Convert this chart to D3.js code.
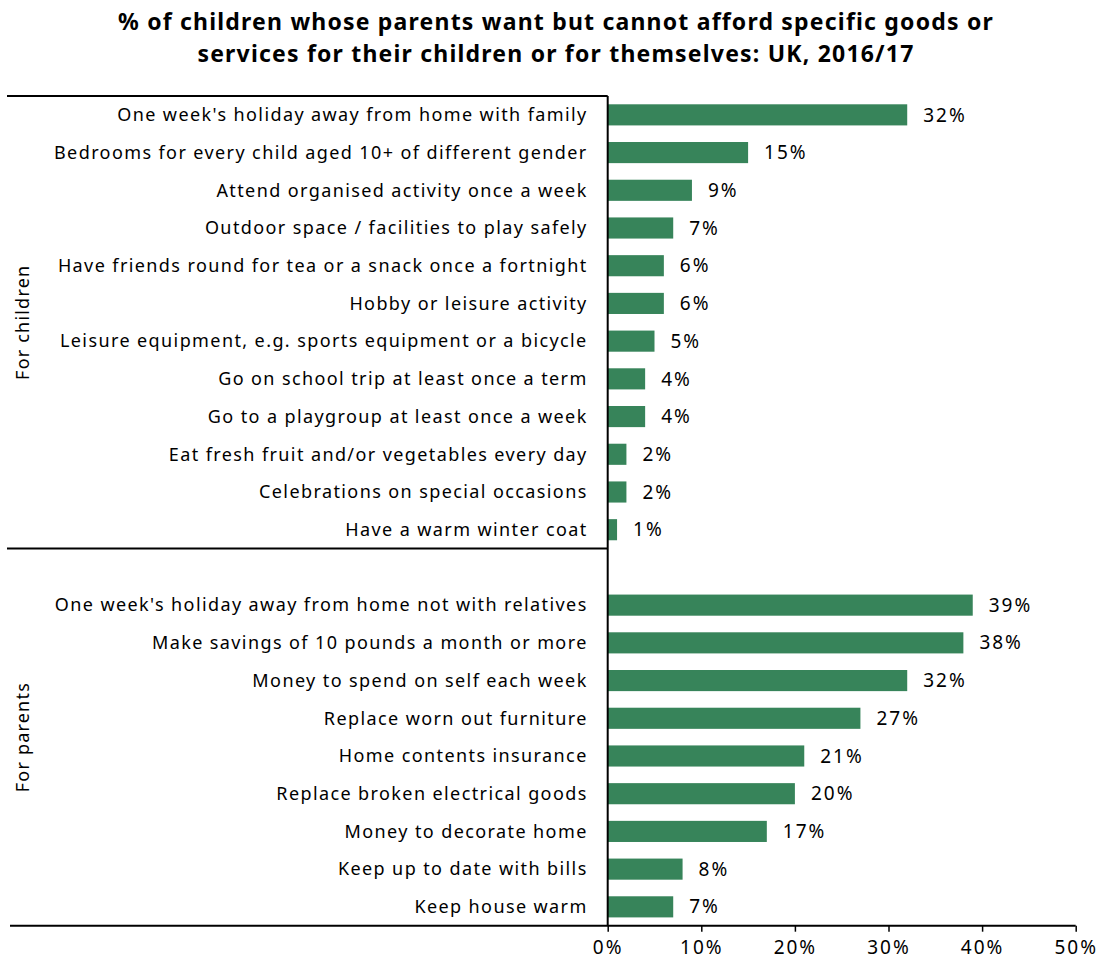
<!DOCTYPE html>
<html><head><meta charset="utf-8">
<script src="https://cdn.jsdelivr.net/npm/d3@7"></script>
<style>body{margin:0;background:#fff}svg{display:block}text{font-family:"Noto Sans",sans-serif;fill:#000}</style>
</head><body><svg id="c" width="1102" height="961"></svg>
<script>
const titleLines = ["% of children whose parents want but cannot afford specific goods or","services for their children or for themselves: UK, 2016/17"];
const childItems = ["One week's holiday away from home with family","Bedrooms for every child aged 10+ of different gender","Attend organised activity once a week","Outdoor space / facilities to play safely","Have friends round for tea or a snack once a fortnight","Hobby or leisure activity","Leisure equipment, e.g. sports equipment or a bicycle","Go on school trip at least once a term","Go to a playgroup at least once a week","Eat fresh fruit and/or vegetables every day","Celebrations on special occasions","Have a warm winter coat"];
const childValues = [32,15,9,7,6,6,5,4,4,2,2,1];
const parentItems = ["One week's holiday away from home not with relatives","Make savings of 10 pounds a month or more","Money to spend on self each week","Replace worn out furniture","Home contents insurance","Replace broken electrical goods","Money to decorate home","Keep up to date with bills","Keep house warm"];
const parentValues = [39,38,32,27,21,20,17,8,7];
const groupLabels = ["For children","For parents"];
const xTicks = [0,10,20,30,40,50];

(function(){
const svg = d3.select("#c");
const pL = 607.7, pR = 1075.7, pT = 96, pB = 925.7;
const rows = [];
childItems.forEach((c,i)=>rows.push({key:"c"+i,label:c,value:childValues[i]}));
rows.push({key:"gap",label:"",value:null});
parentItems.forEach((c,i)=>rows.push({key:"p"+i,label:c,value:parentValues[i]}));

const x = d3.scaleLinear().domain([0,50]).range([pL,pR]);
const y = d3.scaleBand().domain(rows.map(r=>r.key)).range([pT,pB]).paddingInner(0.44).paddingOuter(0.22);
const color = "#37845a";

svg.append("g").selectAll("text").data(titleLines).join("text")
  .attr("x",556).attr("y",(d,i)=>30+i*32).attr("text-anchor","middle")
  .style("font-size","23px").style("font-weight","bold").style("letter-spacing","1.2px").text(d=>d);

const data = rows.filter(r=>r.value!==null);
svg.append("g").selectAll("rect").data(data).join("rect")
  .attr("x",x(0)).attr("y",d=>y(d.key)).attr("width",d=>x(d.value)-x(0)).attr("height",y.bandwidth()).attr("fill",color);

svg.append("g").selectAll("text").data(data).join("text")
  .attr("x",d=>x(d.value)+16).attr("y",d=>y(d.key)+y.bandwidth()/2).attr("dy","0.35em")
  .style("font-size","19px").style("letter-spacing","2px").text(d=>d.value+"%");

svg.append("g").selectAll("text").data(data).join("text")
  .attr("x",pL-20).attr("y",d=>y(d.key)+y.bandwidth()/2).attr("dy","0.35em").attr("text-anchor","end")
  .style("font-size","18px").style("letter-spacing","1.4px").text(d=>d.label);

const ax = svg.append("g").attr("transform",`translate(0,${pB})`)
  .call(d3.axisBottom(x).tickValues(xTicks).tickSize(6).tickFormat(d=>d+"%"));
ax.select(".domain").remove();
ax.selectAll(".tick line").attr("stroke","#000").attr("stroke-width",1.5);
ax.selectAll(".tick text").style("font-size","19px").style("font-family","Noto Sans").style("letter-spacing","2px").attr("fill","#000").attr("y",15);

const step = y.step();
const sep = pT + step*childItems.length;
const lines = [[7,pT,pL,pT],[7,sep,pL,sep],[10,pB,pR,pB],[pL,pT,pL,pB]];
svg.append("g").selectAll("line").data(lines).join("line")
  .attr("x1",d=>d[0]).attr("y1",d=>d[1]).attr("x2",d=>d[2]).attr("y2",d=>d[3])
  .attr("stroke","#000").attr("stroke-width",2);

const gy = [(pT+sep)/2,(sep+pB)/2];
svg.append("g").selectAll("text").data(groupLabels).join("text")
  .attr("transform",(d,i)=>`translate(29,${gy[i]}) rotate(-90)`).attr("text-anchor","middle")
  .style("font-size","18px").style("letter-spacing","1.2px").text(d=>d);
})();
</script></body></html>
